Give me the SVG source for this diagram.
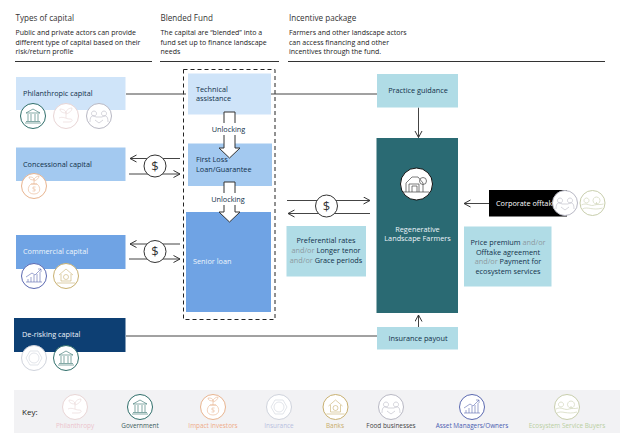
<svg xmlns="http://www.w3.org/2000/svg" width="624" height="439" viewBox="0 0 624 439">
<style>
text{font-family:"Open Sans","Noto Sans","Liberation Sans",sans-serif;font-size:7.300px;fill:#10304a}
.h{font-size:8.100px;fill:#333}
.b{font-size:7px;fill:#222}
.w{fill:#eef5fb}
.ic{fill:none;stroke-width:.6}
.c{fill:#fff;stroke-width:1}
.k{font-size:6.400px;text-anchor:middle}
.m{text-anchor:middle}
.g{fill:#8d9aa0}
.d{font-size:13px;fill:#333;text-anchor:middle}
.ln{fill:none;stroke:#444;stroke-width:1}
.blk{fill:#fff;stroke:#333;stroke-width:1}
.gov{stroke:#2f6e6a;color:#2f6e6a}.phi{stroke:#e8d5d5}.imp{stroke:#e8b48f}.ins{stroke:#cfd3dc}
.ban{stroke:#c8b070}.foo{stroke:#b8b8c4}.ass{stroke:#5a68b0}.eco{stroke:#c8ceac}
</style>
<defs>
<marker id="a" markerWidth="9" markerHeight="9" refX="7.500" refY="4" orient="auto" markerUnits="userSpaceOnUse"><path d="M1 .5L7.500 4L1 7.500" fill="none" stroke="#333" stroke-width="1"/></marker>
<g id="igov"><circle class="c" r="12.500"/><path class="ic" d="M-7 -3L0 -7L7 -3ZM-5 -2V5M-2 -2V5M2 -2V5M5 -2V5M-7 5.500H7M-8 7H8"/></g>
<g id="iphi"><circle class="c" r="12.500"/><path class="ic" d="M-7 2C-3 0 0 3 4 3C7 3 7 6 3 6H-3M0 2V-3C0 -6 -4 -7 -6 -7C-6 -4 -3 -3 0 -3C0 -6 3 -8 6 -8C6 -5 3 -3 0 -2"/></g>
<g id="ifoo"><circle class="c" r="12.500"/><path class="ic" d="M-5 -5a2.500 2.500 0 1 0 .01 0M5 -5a2.500 2.500 0 1 0 .01 0M-9 6C-9 -1 -6 -1 -3 1L3 1C6 -1 9 -1 9 6M-4 4L0 7L4 4"/></g>
<g id="iimp"><circle class="c" r="12.500"/><path class="ic" d="M-3 -2C-7 1 -7 8 0 8C7 8 7 1 3 -2ZM-3 -2H3M0 -2V-6C0 -9 -3 -9 -5 -9C-5 -7 -3 -6 0 -6C0 -8 3 -10 5 -10C5 -8 3 -6 0 -5M1.500 1H-1V3H1V5H-1.500"/></g>
<g id="iins"><circle class="c" r="12.500"/><path class="ic" d="M-8 0L-4 -7H4L8 0L4 7H-4Z"/><circle class="ic" r="5"/></g>
<g id="iban"><circle class="c" r="12.500"/><path class="ic" d="M-7 -1L0 -7L7 -1M-5 -2V5H5V-2M-9 7H9"/><circle class="ic" r="2.500" cy="1"/></g>
<g id="iass"><circle class="c" r="12.500"/><path class="ic" d="M-8 6H8M-6 6V3M-3 6V1M0 6V-1M3 6V-2M6 6V-4M-8 1L-2 -3L1 -1L7 -7M4 -7H7V-4"/></g>
<g id="ieco"><circle class="c" r="12.500"/><path class="ic" d="M-11 2C-6 -1 -2 4 2 2C5 1 8 2 11 1M-10 6C-5 3 0 8 10 5M-6 -5a2.500 2.500 0 1 0 .01 0M4 -6a3.500 3.500 0 1 0 .01 0M4 1V-1"/></g>
</defs>
<rect width="624" height="439" fill="#fff"/>
<g id="headers">
<text class="h" x="15.500" y="21">Types of capital</text>
<text class="b" x="15.500" y="35">Public and private actors can provide</text>
<text class="b" x="15.500" y="44.500">different type of capital based on their</text>
<text class="b" x="15.500" y="54">risk/return profile</text>
<text class="h" x="160.500" y="21">Blended Fund</text>
<text class="b" x="160.500" y="35">The capital are “blended” into a</text>
<text class="b" x="160.500" y="44.500">fund set up to finance landscape</text>
<text class="b" x="160.500" y="54">needs</text>
<text class="h" x="289" y="21">Incentive package</text>
<text class="b" x="289" y="35">Farmers and other landscape actors</text>
<text class="b" x="289" y="44.500">can access financing and other</text>
<text class="b" x="289" y="54">incentives through the fund.</text>
<path d="M15 61.500H152M160 61.500H279M288 61.500H605" stroke="#333" stroke-width="1" fill="none"/>
</g>
<g id="fund-outline"><rect x="183.500" y="69.500" width="91.500" height="250" fill="none" stroke="#222" stroke-width="1" stroke-dasharray="4 3"/></g>
<g id="connectors">
<path class="ln" d="M126 94H186M271 94H377M126 336H377"/>
<path class="ln" d="M180 158.500H130" marker-end="url(#a)"/>
<path class="ln" d="M129 174H180" marker-end="url(#a)"/>
<path class="ln" d="M180 244H130" marker-end="url(#a)"/>
<path class="ln" d="M129 259H180" marker-end="url(#a)"/>
<path class="ln" d="M287 200.500H370" marker-end="url(#a)"/>
<path class="ln" d="M370 213.500H288" marker-end="url(#a)"/>
<path class="ln" d="M418.500 107.500V137.500" marker-end="url(#a)"/>
<path class="ln" d="M418.500 327V315" marker-end="url(#a)"/>
<path class="ln" d="M489 203.500H464" marker-end="url(#a)"/>
</g>
<g id="philanthropic"><rect x="16" y="77" width="109.500" height="33" fill="#cfe4f9"/><text x="23" y="96">Philanthropic capital</text>
<use href="#igov" class="gov" x="33" y="116"/><use href="#iphi" class="phi" x="66" y="116"/><use href="#ifoo" class="foo" x="99" y="116"/></g>
<g id="concessional"><rect x="16" y="147.500" width="109.500" height="33.500" fill="#a3c9f0"/><text x="23" y="166.500">Concessional capital</text>
<use href="#iimp" class="imp" x="34" y="186"/></g>
<g id="commercial"><rect x="16" y="235" width="109.500" height="34" fill="#6fa3e4"/><text class="w" x="23" y="254">Commercial capital</text>
<use href="#iass" class="ass" x="34" y="276"/><use href="#iban" class="ban" x="66" y="276"/></g>
<g id="derisking"><rect x="14" y="318" width="111.500" height="34" fill="#0d3f73"/><text class="w" x="22" y="337">De-risking capital</text>
<use href="#iins" class="ins" x="34" y="358"/><use href="#igov" class="gov" x="66" y="358"/></g>
<g id="technical"><rect x="188" y="73.500" width="83" height="41" fill="#cfe4f9"/><text x="196" y="91.500">Technical</text><text x="196" y="101">assistance</text></g>
<g id="firstloss"><rect x="188" y="143.500" width="84" height="42.500" fill="#a3c9f0"/><text x="196" y="162">First Loss</text><text x="196" y="171.500">Loan/Guarantee</text></g>
<g id="senior"><rect x="186" y="212" width="85" height="100" fill="#6fa3e4"/><text class="w" x="193" y="264">Senior loan</text></g>
<g id="unlock1"><path class="blk" d="M224 112H235V148H240L229.500 158L219 148H224Z"/><rect x="210" y="123" width="38" height="12" fill="#fff"/><text class="m" x="228.500" y="132">Unlocking</text></g>
<g id="unlock2"><path class="blk" d="M224 182H235V212H240L229.500 222L219 212H224Z"/><rect x="210" y="193" width="38" height="12" fill="#fff"/><text class="m" x="228" y="202">Unlocking</text></g>
<g id="money1"><circle class="blk" cx="155" cy="166" r="11"/><text class="d" x="155" y="170.500">$</text></g>
<g id="money2"><circle class="blk" cx="155" cy="251.500" r="11"/><text class="d" x="155" y="256">$</text></g>
<g id="money3"><circle class="blk" cx="326.500" cy="206" r="11"/><text class="d" x="326.500" y="210.500">$</text></g>
<g id="practice"><rect x="377" y="74" width="81" height="33.500" fill="#b0dce6"/><text class="m" x="418" y="93">Practice guidance</text></g>
<g id="farmers"><rect x="376.500" y="138" width="81.500" height="175" fill="#2a6a73"/>
<circle cx="416.500" cy="184" r="16" fill="#fff" stroke="#111" stroke-width="1"/>
<path d="M406 192V183L412 177H418L423 183V192M409 192V184H419V192M412 192V186H417V192M403 192H429" fill="none" stroke="#444" stroke-width=".7"/><circle cx="423" cy="181" r="3.500" fill="none" stroke="#444" stroke-width=".7"/>
<text class="m w" x="417.500" y="231.500">Regenerative</text><text class="m w" x="417.500" y="241">Landscape Farmers</text></g>
<g id="insurance"><rect x="377" y="327" width="81" height="22.500" fill="#b0dce6"/><text class="m" x="418" y="341">Insurance payout</text></g>
<g id="preferential"><rect x="286.500" y="226" width="79.500" height="50.500" fill="#b0dce6"/>
<text class="m" x="326" y="243">Preferential rates</text>
<text class="m" x="326" y="253"><tspan class="g">and/or </tspan>Longer tenor</text>
<text class="m" x="326" y="263"><tspan class="g">and/or </tspan>Grace periods</text></g>
<g id="price"><rect x="464" y="226.500" width="87.500" height="60" fill="#b0dce6"/>
<text class="m" x="508" y="245">Price premium <tspan class="g">and/or</tspan></text>
<text class="m" x="508" y="254.500">Offtake agreement</text>
<text class="m" x="508" y="264"><tspan class="g">and/or </tspan>Payment for</text>
<text class="m" x="508" y="273.500">ecosystem services</text></g>
<g id="corporate"><rect x="489" y="190" width="78" height="26.500" fill="#000"/><text x="496" y="205.500" style="fill:#fff">Corporate offtaker</text>
<use href="#ifoo" class="foo" x="565" y="203"/><use href="#ieco" class="eco" x="592.500" y="203"/></g>
<g id="key"><rect x="14" y="390" width="606" height="43" fill="#f2f2f4"/>
<text x="22" y="415" style="font-size:8px;fill:#222">Key:</text>
<g id="key-philanthropy"><use href="#iphi" class="phi" x="75" y="407"/><text class="k" x="75" y="428" style="fill:#ecc4cc">Philanthropy</text></g>
<g id="key-government"><use href="#igov" class="gov" x="140" y="407"/><text class="k" x="140" y="428" style="fill:#3a5a5a">Government</text></g>
<g id="key-impact"><use href="#iimp" class="imp" x="213" y="407"/><text class="k" x="213" y="428" style="fill:#efab88">Impact investors</text></g>
<g id="key-insurance"><use href="#iins" class="ins" x="279" y="407"/><text class="k" x="279" y="428" style="fill:#b8c0e0">Insurance</text></g>
<g id="key-banks"><use href="#iban" class="ban" x="335.500" y="407"/><text class="k" x="335" y="428" style="fill:#c8ac6a">Banks</text></g>
<g id="key-food"><use href="#ifoo" class="foo" x="391" y="407"/><text class="k" x="391" y="428" style="fill:#444">Food businesses</text></g>
<g id="key-asset"><use href="#iass" class="ass" x="472" y="407"/><text class="k" x="472" y="428" style="fill:#4a5cb0">Asset Managers/Owners</text></g>
<g id="key-eco"><use href="#ieco" class="eco" x="567" y="407"/><text class="k" x="567" y="428" style="fill:#b9cf9f">Ecosystem Service Buyers</text></g>
</g>
</svg>
